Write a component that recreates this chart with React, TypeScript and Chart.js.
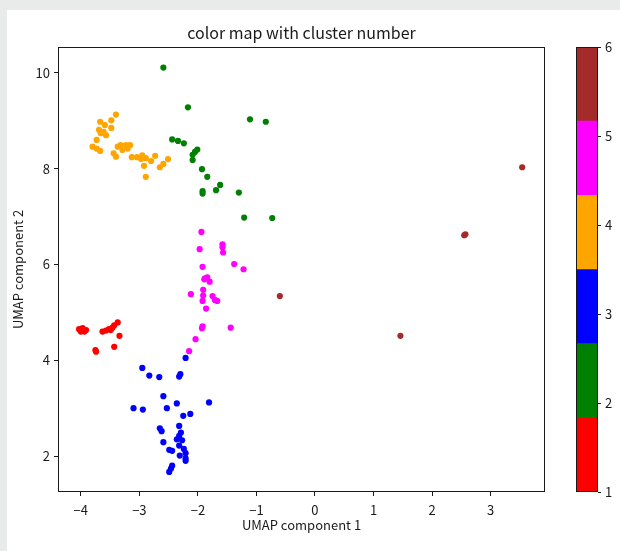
import { useEffect, useRef } from "react";
import { Chart, registerables } from "chart.js";

Chart.register(...registerables);

const TITLE = "color map with cluster number";
const X_LABEL = "UMAP component 1";
const Y_LABEL = "UMAP component 2";

const X_TICKS = [-4, -3, -2, -1, 0, 1, 2, 3];
const Y_TICKS = [2, 4, 6, 8, 10];
const CLUSTER_TICKS = [1, 2, 3, 4, 5, 6];
const CLUSTER_COLORS = ["#ff0000", "#008000", "#0000ff", "#ffa500", "#ff00ff", "#a52a2a"];

// UMAP embedding, one list of [x, y] pairs per cluster
const cluster1 = [
  [-4.03, 4.65], [-3.97, 4.67], [-3.91, 4.63], [-4.0, 4.6], [-3.94, 4.6], [-3.63, 4.6],
  [-3.57, 4.62], [-3.52, 4.65], [-3.46, 4.68], [-3.49, 4.63], [-3.37, 4.79], [-3.43, 4.73],
  [-3.34, 4.51], [-3.43, 4.28], [-3.75, 4.21], [-3.74, 4.18],
];
const cluster2 = [
  [-2.59, 10.11], [-2.17, 9.28], [-1.11, 9.03], [-0.84, 8.98], [-2.44, 8.61], [-2.34, 8.58],
  [-2.24, 8.53], [-2.01, 8.4], [-2.05, 8.35], [-2.09, 8.29], [-2.09, 8.18], [-1.93, 7.99],
  [-1.84, 7.83], [-1.62, 7.66], [-1.69, 7.55], [-1.92, 7.53], [-1.92, 7.48], [-1.3, 7.5],
  [-1.21, 6.98], [-0.73, 6.97],
];
const cluster3 = [
  [-2.21, 4.05], [-2.95, 3.84], [-2.83, 3.68], [-2.66, 3.65], [-2.3, 3.71], [-2.32, 3.66],
  [-2.59, 3.25], [-3.1, 3.0], [-2.94, 2.97], [-2.53, 3.0], [-2.36, 3.1], [-1.81, 3.12],
  [-2.25, 2.84], [-2.13, 2.88], [-2.32, 2.63], [-2.65, 2.58], [-2.62, 2.52], [-2.29, 2.49],
  [-2.32, 2.42], [-2.36, 2.35], [-2.27, 2.33], [-2.59, 2.29], [-2.32, 2.22], [-2.49, 2.13],
  [-2.44, 2.11], [-2.24, 2.15], [-2.21, 2.06], [-2.31, 2.01], [-2.21, 1.95], [-2.21, 1.9],
  [-2.44, 1.8], [-2.46, 1.74], [-2.49, 1.67],
];
const cluster4 = [
  [-3.4, 9.13], [-3.48, 9.01], [-3.67, 8.98], [-3.59, 8.91], [-3.48, 8.85], [-3.69, 8.81],
  [-3.61, 8.77], [-3.57, 8.7], [-3.66, 8.74], [-3.73, 8.6], [-3.8, 8.46], [-3.73, 8.42],
  [-3.67, 8.37], [-3.37, 8.46], [-3.32, 8.49], [-3.23, 8.49], [-3.16, 8.49], [-3.2, 8.42],
  [-3.29, 8.39], [-3.44, 8.32], [-3.4, 8.25], [-3.13, 8.24], [-3.04, 8.24], [-2.95, 8.28],
  [-2.97, 8.2], [-2.89, 8.22], [-2.8, 8.16], [-2.73, 8.27], [-2.92, 8.06], [-2.59, 8.1],
  [-2.65, 8.03], [-2.51, 8.2], [-2.89, 7.83],
];
const cluster5 = [
  [-1.94, 6.68], [-1.58, 6.42], [-1.58, 6.36], [-1.97, 6.32], [-1.57, 6.25], [-1.38, 6.01],
  [-1.22, 5.9], [-1.92, 5.95], [-1.88, 5.71], [-1.84, 5.73], [-1.8, 5.64], [-1.89, 5.69],
  [-1.91, 5.47], [-2.12, 5.38], [-1.91, 5.35], [-1.92, 5.24], [-1.75, 5.34], [-1.71, 5.26],
  [-1.67, 5.24], [-1.86, 5.08], [-1.92, 4.71], [-1.93, 4.67], [-1.44, 4.68], [-2.04, 4.44],
  [-2.15, 4.19],
];
const cluster6 = [
  [3.54, 8.03], [2.57, 6.63], [2.55, 6.61], [-0.6, 5.34], [1.46, 4.51],
];

const CLUSTERS = [cluster1, cluster2, cluster3, cluster4, cluster5, cluster6];

const FONT = "'Noto Sans CJK JP', 'Noto Sans', sans-serif";
const INK = "#1a1a1a";

const fmt = (v: number | string) => String(v).replace("-", "\u2212");

// outline around the plotting area
const framePlugin = {
  id: "frame",
  afterDraw(chart: any) {
    const { ctx, chartArea } = chart;
    const { left, top, right, bottom } = chartArea;
    ctx.save();
    ctx.strokeStyle = INK;
    ctx.lineWidth = 1;
    ctx.strokeRect(Math.round(left) + 0.5, Math.round(top) + 0.5, Math.round(right - left) - 1, Math.round(bottom - top) - 1);
    ctx.restore();
  },
};

function ScatterPanel() {
  const ref = useRef<HTMLCanvasElement>(null);
  useEffect(() => {
    if (!ref.current) return;
    const chart = new Chart(ref.current, {
      type: "scatter",
      data: {
        datasets: CLUSTERS.map((pts, i) => ({
          label: String(i + 1),
          data: pts.map(([x, y]) => ({ x, y })),
          pointRadius: 3.1,
          pointBorderWidth: 0,
          pointBackgroundColor: CLUSTER_COLORS[i],
          pointBorderColor: CLUSTER_COLORS[i],
        })),
      },
      options: {
        responsive: false,
        animation: false,
        layout: { padding: { left: 0, right: 25, top: 0, bottom: 0 } },
        plugins: {
          legend: { display: false },
          tooltip: { enabled: false },
          title: {
            display: true,
            text: TITLE,
            fullSize: false,
            color: INK,
            font: { family: FONT, size: 16, weight: "normal" },
            padding: { top: 23, bottom: 4.8 },
          },
        },
        scales: {
          x: {
            type: "linear",
            min: -4.39,
            max: 3.93,
            afterFit: (s: any) => { s.height = 59; },
            afterBuildTicks: (s: any) => { s.ticks = X_TICKS.map((value) => ({ value })); },
            ticks: { color: INK, font: { family: FONT, size: 13 }, padding: 6, callback: (v: any) => fmt(v) },
            grid: { display: true, drawOnChartArea: false, drawTicks: true, tickLength: 4, color: INK },
            border: { display: false },
            title: { display: true, text: X_LABEL, color: INK, font: { family: FONT, size: 13 }, padding: { top: 0, bottom: 18 } },
          },
          y: {
            type: "linear",
            min: 1.25,
            max: 10.54,
            afterFit: (s: any) => { s.width = 58; },
            afterBuildTicks: (s: any) => { s.ticks = Y_TICKS.map((value) => ({ value })); },
            ticks: { color: INK, font: { family: FONT, size: 13 }, padding: 4, callback: (v: any) => fmt(v) },
            grid: { display: true, drawOnChartArea: false, drawTicks: true, tickLength: 4, color: INK },
            border: { display: false },
            title: { display: true, text: Y_LABEL, color: INK, font: { family: FONT, size: 13 }, padding: { top: 10, bottom: 0 } },
          },
        },
      },
      plugins: [framePlugin],
    } as any);
    return () => chart.destroy();
  }, []);
  return <canvas ref={ref} width={570} height={551} style={{ position: "absolute", left: 0, top: 0, width: 570, height: 551 }} />;
}

function ColorBar() {
  const ref = useRef<HTMLCanvasElement>(null);
  useEffect(() => {
    if (!ref.current) return;
    const n = CLUSTER_COLORS.length;
    const lo = CLUSTER_TICKS[0];
    const hi = CLUSTER_TICKS[CLUSTER_TICKS.length - 1];
    const step = (hi - lo) / n;
    const chart = new Chart(ref.current, {
      type: "bar",
      data: {
        labels: [""],
        datasets: CLUSTER_COLORS.map((c, i) => ({
          label: String(i + 1),
          data: [[lo + i * step, lo + (i + 1) * step]],
          backgroundColor: c,
          borderWidth: 0,
          barPercentage: 1,
          categoryPercentage: 1,
          grouped: false,
        })),
      },
      options: {
        responsive: false,
        animation: false,
        layout: { padding: { left: 21, right: 0, top: 47, bottom: 59 } },
        plugins: { legend: { display: false }, tooltip: { enabled: false }, title: { display: false } },
        scales: {
          x: { display: false },
          y: {
            position: "right",
            min: lo,
            max: hi,
            afterFit: (s: any) => { s.width = 22; },
            afterBuildTicks: (s: any) => { s.ticks = CLUSTER_TICKS.map((value) => ({ value })); },
            ticks: { color: INK, font: { family: FONT, size: 13 }, padding: 4 },
            grid: { display: true, drawOnChartArea: false, drawTicks: true, tickLength: 3, color: INK },
            border: { display: false },
          },
        },
      },
      plugins: [framePlugin],
    } as any);
    return () => chart.destroy();
  }, []);
  return <canvas ref={ref} width={65} height={551} style={{ position: "absolute", left: 555, top: 0, width: 65, height: 551 }} />;
}

export default function App() {
  return (
    <div style={{ position: "fixed", left: 0, top: 0, width: 620, height: 551, background: "#e9eaea", overflow: "hidden" }}>
      <div style={{ position: "absolute", left: 7, top: 10, right: 0, bottom: 0, background: "#ffffff" }} />
      <ScatterPanel />
      <ColorBar />
    </div>
  );
}
